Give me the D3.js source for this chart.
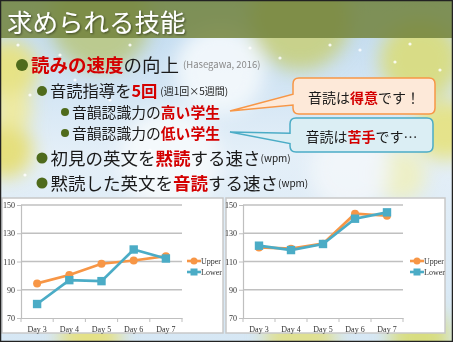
<!DOCTYPE html>
<html><head><meta charset="utf-8">
<script src="https://cdn.jsdelivr.net/npm/d3@7"></script>
<style>html,body{margin:0;padding:0;background:#fff;}svg{display:block;}</style>
</head><body>
<script>
// ---- data ----
const days = ["Day 3", "Day 4", "Day 5", "Day 6", "Day 7"];
const yTicks = [70, 90, 110, 130, 150];
const seriesNames = ["Upper", "Lower"];
const leftUpper = [94.5, 100.4, 108.4, 110.7, 113.8];
const leftLower = [79.9, 96.8, 96.1, 118.5, 112.1];
const rightUpper = [120.0, 119.1, 122.6, 143.8, 142.4];
const rightLower = [121.2, 118.1, 122.4, 140.3, 144.8];

const W = 453, H = 342;
const svg = d3.select("body").append("svg").attr("width", W).attr("height", H);
const defs = svg.append("defs");
const jp = "'Noto Sans CJK JP','Noto Sans',sans-serif";

// ---- background ----
const lg = defs.append("linearGradient").attr("id","bg").attr("x1",0).attr("y1",0).attr("x2",0).attr("y2",1);
lg.append("stop").attr("offset","0").attr("stop-color","#bcd8ef");
lg.append("stop").attr("offset","0.45").attr("stop-color","#e4eff8");
lg.append("stop").attr("offset","1").attr("stop-color","#d6e7f4");
svg.append("rect").attr("width",W).attr("height",H).attr("fill","url(#bg)");
defs.append("filter").attr("id","blur").append("feGaussianBlur").attr("stdDeviation",9);
const blobs = [
  {x:8,y:70,r:30,c:"#e9e27a"},{x:5,y:150,r:28,c:"#e6dd6e"},{x:12,y:110,r:20,c:"#f0ea9a"},
  {x:420,y:60,r:40,c:"#d9dc7a"},{x:445,y:130,r:30,c:"#e6e27e"},{x:400,y:175,r:26,c:"#eef0c0"},
  {x:220,y:70,r:45,c:"#f4f8fc"},{x:170,y:160,r:50,c:"#f6f9fc"},{x:350,y:170,r:40,c:"#f2f6fa"},
  {x:90,y:338,r:30,c:"#e5e07c"},{x:300,y:340,r:35,c:"#e0df88"},{x:420,y:338,r:30,c:"#d8dc74"},
  {x:100,y:20,r:50,c:"#b9c884"},{x:300,y:20,r:50,c:"#c8cf80"}
];
svg.append("g").attr("filter","url(#blur)").selectAll("circle").data(blobs).join("circle")
  .attr("cx",d=>d.x).attr("cy",d=>d.y).attr("r",d=>d.r).attr("fill",d=>d.c).attr("opacity",0.9);
const dots = [[18,45],[60,55],[75,80],[30,95],[130,45],[250,48],[280,58],[330,45],[360,50],[395,62],[410,44],[440,70],[150,150],[25,175],[110,100]];
svg.append("g").selectAll("circle").data(dots).join("circle")
  .attr("cx",d=>d[0]).attr("cy",d=>d[1]).attr("r",1.6).attr("fill","#fff").attr("opacity",0.85);

// ---- title bar ----
svg.append("rect").attr("x",0).attr("y",0).attr("width",W).attr("height",38).attr("fill","#72823c").attr("opacity",0.85);
defs.append("filter").attr("id","ts").append("feDropShadow").attr("dx",1).attr("dy",1).attr("stdDeviation",0.8).attr("flood-color","#000").attr("flood-opacity",0.5);
svg.append("text").attr("x",7).attr("y",20).attr("dominant-baseline","central")
  .attr("font-family",jp).attr("font-size",25.5).attr("fill","#fff").attr("filter","url(#ts)")
  .text("求められる技能");

// ---- bullets text ----
const bulletColor = "#4f6b1c";
function line(x, y, r, size, parts) {
  svg.append("circle").attr("cx",x).attr("cy",y+1).attr("r",r).attr("fill",bulletColor);
  const t = svg.append("text").attr("x",x+r+3).attr("y",y).attr("dominant-baseline","central")
    .attr("font-family",jp).attr("font-size",size).attr("fill","#1a1a1a");
  parts.forEach(p => {
    const ts = t.append("tspan").text(p.t);
    if (p.red) ts.attr("fill","#d40000").attr("font-weight","bold");
    if (p.small) ts.attr("font-size",p.small).attr("fill",p.gray ? "#8a8a8a" : "#1a1a1a").attr("dx",p.dx||0);
  });
}
line(22, 64, 6, 18.5, [{t:"読みの速度",red:true},{t:"の向上"},{t:"(Hasegawa, 2016)",small:9.5,gray:true,dx:4}]);
line(42, 90, 5, 16.3, [{t:"音読指導を"},{t:"5回",red:true},{t:"(週1回×5週間)",small:10,dx:3}]);
line(65, 111, 4, 14.8, [{t:"音韻認識力の"},{t:"高い学生",red:true}]);
line(65, 132, 4, 14.8, [{t:"音韻認識力の"},{t:"低い学生",red:true}]);
line(42, 157, 5.5, 17.5, [{t:"初見の英文を"},{t:"黙読",red:true},{t:"する速さ"},{t:"(wpm)",small:10}]);
line(42, 182, 5.5, 17.5, [{t:"黙読した英文を"},{t:"音読",red:true},{t:"する速さ"},{t:"(wpm)",small:10}]);

// ---- callouts ----
function callout(x, y, w, h, px, py, fill, stroke, parts) {
  const r = 6;
  const ay1 = y + h*0.45, ay2 = y + h*0.75;
  const p = `M${x+r},${y} H${x+w-r} Q${x+w},${y} ${x+w},${y+r} V${y+h-r} Q${x+w},${y+h} ${x+w-r},${y+h} H${x+r} Q${x},${y+h} ${x},${y+h-r} V${ay2} L${px},${py} L${x},${ay1} V${y+r} Q${x},${y} ${x+r},${y} Z`;
  svg.append("path").attr("d",p).attr("fill",fill).attr("stroke",stroke).attr("stroke-width",1.5);
  const t = svg.append("text").attr("x",x+w/2).attr("y",y+h/2+1).attr("text-anchor","middle").attr("dominant-baseline","central")
    .attr("font-family",jp).attr("font-size",14).attr("fill","#1a1a1a");
  parts.forEach(q => { const s = t.append("tspan").text(q.t); if (q.red) s.attr("fill","#d40000").attr("font-weight","bold"); });
}
callout(293, 78, 142, 36, 230, 111, "#fde9d9", "#f79646", [{t:"音読は"},{t:"得意",red:true},{t:"です！"}]);
callout(290, 118, 143, 34, 230, 132, "#dbeef4", "#4bacc6", [{t:"音読は"},{t:"苦手",red:true},{t:"です…"}]);

// ---- charts ----
const serif = "'Liberation Serif','Times New Roman',serif";
const colors = {Upper:"#f79646", Lower:"#4bacc6"};
function chart(box, axisX0, axisX1, legX, upper, lower) {
  svg.append("rect").attr("x",box[0]).attr("y",box[1]).attr("width",box[2]).attr("height",box[3])
    .attr("fill","#fff").attr("stroke","#c8c8c8").attr("stroke-width",1.5);
  const x = d3.scaleBand().domain(days).range([axisX0, axisX1]);
  const y = d3.scaleLinear().domain([70,150]).range([318,205]);
  const g = svg.append("g");
  g.selectAll(".grid").data(yTicks.slice(1)).join("line")
    .attr("x1",axisX0).attr("x2",axisX1).attr("y1",d=>y(d)).attr("y2",d=>y(d))
    .attr("stroke","#c0c0c0").attr("stroke-width",1.3);
  const ya = d3.axisLeft(y).tickValues(yTicks).tickSize(4).tickPadding(2);
  const yg = g.append("g").attr("transform",`translate(${axisX0},0)`).call(ya);
  yg.attr("font-family",null);
  yg.select(".domain").attr("stroke","#bfbfbf").attr("stroke-width",1.2);
  yg.selectAll(".tick line").attr("stroke","#bfbfbf");
  yg.selectAll("text").style("font-family",serif).style("font-size","8px").attr("fill","#333");
  const xa = d3.axisBottom(x).tickSize(0).tickPadding(8);
  const xg = g.append("g").attr("transform",`translate(0,${y(70)})`).call(xa);
  xg.attr("font-family",null);
  xg.select(".domain").attr("stroke","#bfbfbf").attr("stroke-width",1.2);
  xg.selectAll("text").style("font-family",serif).style("font-size","8px").attr("fill","#333");
  const edges = days.map(d=>x(d)).concat([axisX1]);
  g.selectAll(".bt").data(edges).join("line").attr("x1",d=>d).attr("x2",d=>d)
    .attr("y1",y(70)).attr("y2",y(70)+4).attr("stroke","#bfbfbf");
  const data = {Upper: upper, Lower: lower};
  const ln = d3.line().x((v,i)=>x(days[i])+x.bandwidth()/2).y(v=>y(v));
  seriesNames.forEach(name => {
    const vals = data[name], c = colors[name];
    g.append("path").attr("d",ln(vals)).attr("fill","none").attr("stroke",c).attr("stroke-width",2.7);
    vals.forEach((v,i) => {
      const cx = x(days[i])+x.bandwidth()/2, cy = y(v);
      if (name === "Upper") g.append("circle").attr("cx",cx).attr("cy",cy).attr("r",4).attr("fill",c);
      else g.append("rect").attr("x",cx-4.2).attr("y",cy-4.2).attr("width",8.4).attr("height",8.4).attr("fill",c);
    });
  });
  seriesNames.forEach((name,i) => {
    const ly = 261 + i*11, c = colors[name];
    g.append("line").attr("x1",legX-7).attr("x2",legX+7).attr("y1",ly).attr("y2",ly).attr("stroke",c).attr("stroke-width",2.6);
    if (name === "Upper") g.append("circle").attr("cx",legX).attr("cy",ly).attr("r",3.5).attr("fill",c);
    else g.append("rect").attr("x",legX-3.5).attr("y",ly-3.5).attr("width",7).attr("height",7).attr("fill",c);
    g.append("text").attr("x",legX+7).attr("y",ly).attr("dominant-baseline","central")
      .style("font-family",serif).style("font-size","8px").attr("fill","#333").text(name);
  });
}
chart([2,198,221,135], 21, 182, 194, leftUpper, leftLower);
chart([226,198,219,135], 243, 403, 417, rightUpper, rightLower);

svg.append("rect").attr("x",0.5).attr("y",0.5).attr("width",W-1).attr("height",H-1).attr("fill","none").attr("stroke","#222").attr("stroke-width",1.5);
</script>
</body></html>
